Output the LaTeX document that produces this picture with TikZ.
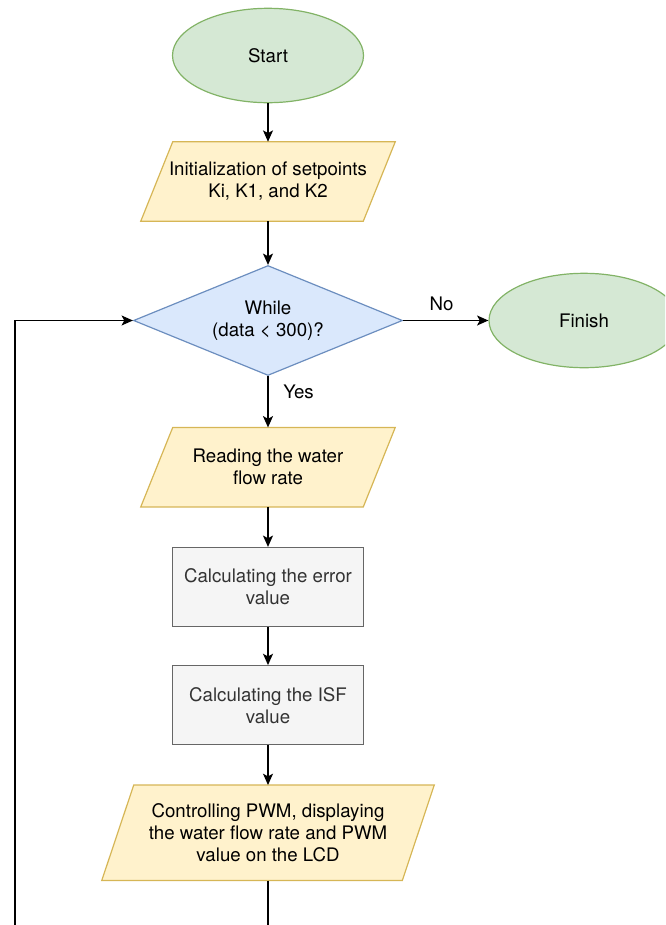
\documentclass[tikz,border=0pt]{standalone}
\usepackage{fontspec}
\setmainfont{TeX Gyre Heros}
\usetikzlibrary{shapes.geometric,arrows.meta,backgrounds}
\definecolor{termfill}{HTML}{D5E8D4}
\definecolor{termline}{HTML}{82B366}
\definecolor{iofill}{HTML}{FFF2CC}
\definecolor{ioline}{HTML}{D6B656}
\definecolor{decfill}{HTML}{DAE8FC}
\definecolor{decline}{HTML}{6C8EBF}
\definecolor{procfill}{HTML}{F5F5F5}
\definecolor{procline}{HTML}{666666}
\definecolor{proctext}{HTML}{333333}
\tikzset{
  base/.style={font=\fontsize{14}{16.5}\selectfont, align=center, inner sep=0pt},
  term/.style={base, ellipse, draw=termline, fill=termfill, line width=0.9pt,
    minimum width=143.25pt, minimum height=70.8pt},
  io/.style={base, minimum width=166.5pt, minimum height=59.25pt},
  iobig/.style={base, minimum width=225pt, minimum height=71.25pt},
  ioshape/.style={draw=ioline, fill=iofill, line width=0.9pt},
  dec/.style={base, diamond, aspect=2.445, draw=decline, fill=decfill, line width=0.9pt,
    minimum width=201.75pt, minimum height=82.5pt},
  proc/.style={base, rectangle, draw=procline, fill=procfill, text=proctext,
    line width=0.9pt, minimum width=143.25pt, minimum height=59.25pt},
  arr/.style={line width=1pt, -{Stealth[length=8.5pt,width=7.5pt,inset=2pt]}},
  lbl/.style={base}
}
\newcommand\iopoly[2]{%
  \draw[ioshape] ([xshift=#2]#1.north west) -- ([xshift=#2]#1.north east)
    -- ([xshift=-#2]#1.south east) -- ([xshift=-#2]#1.south west) -- cycle;}
\begin{document}
\begin{tikzpicture}[x=0.75pt, y=-0.75pt]
\useasboundingbox (0,0) rectangle (665,925);
\clip (0,0) rectangle (665,925);

\node[term] (start) at (268,55.5) {Start};
\node[io] (init) at (268,181.5) {Initialization of setpoints\\Ki, K1, and K2};
\node[dec] (cond) at (268,320.5) {While\\(data < 300)?};
\node[term, minimum width=142.5pt] (finish) at (584,320.5) {Finish};
\node[io] (read) at (268,467.2) {Reading the water\\flow rate};
\node[proc] (err) at (268,587) {Calculating the error\\value};
\node[proc] (isf) at (268,705.2) {Calculating the ISF\\value};
\node[iobig] (ctrl) at (268,832.8) {Controlling PWM, displaying\\the water flow rate and PWM\\value on the LCD};

\begin{scope}[on background layer]
  \iopoly{init}{12pt}
  \iopoly{read}{12pt}
  \iopoly{ctrl}{12pt}
\end{scope}

\coordinate (c1) at (268,960);
\coordinate (c2) at (15,960);

\draw[arr] (start.south) -- (init.north);
\draw[arr] (init.south) -- (cond.north);
\draw[arr] (cond.east) -- (finish.west)
  node[lbl, pos=0.45, above=7pt] (no) {No};
\draw[arr] (cond.south) -- (read.north)
  node[lbl, pos=0.3, right=11pt] (yes) {Yes};
\draw[arr] (read.south) -- (err.north);
\draw[arr] (err.south) -- (isf.north);
\draw[arr] (isf.south) -- (ctrl.north);
\draw[arr] (ctrl.south) -- (c1) -- (c2) |- (cond.west);
\end{tikzpicture}
\end{document}
